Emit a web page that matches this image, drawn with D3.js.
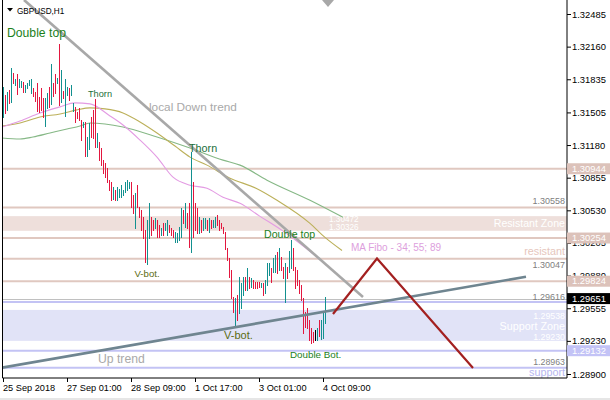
<!DOCTYPE html>
<html><head><meta charset="utf-8">
<script src="https://cdn.jsdelivr.net/npm/d3@7"></script>
<style>
body{margin:0;background:#fff}
svg{display:block}
text{font-family:"Liberation Sans",Arial,sans-serif}
</style>
</head><body><svg id="c" width="610" height="400"></svg>
<script>
// ---------- data ----------
const symbol = "GBPUSD,H1";
const timeLabels = ["25 Sep 2018","27 Sep 01:00","28 Sep 09:00","1 Oct 17:00","3 Oct 01:00","4 Oct 09:00"];
const timeTickBars = [0,32,64,96,128,160];
const priceTicks = [1.32485,1.32160,1.31835,1.31505,1.31180,1.30855,1.30530,1.30205,1.29880,1.29555,1.29230,1.28900];

const highs = [
1.3176,1.3168,1.3171,1.3173,1.3195,1.3190,1.3184,1.3189,1.3184,1.3182,
1.3181,1.3178,1.3180,1.3183,1.3184,1.3175,1.3171,1.3180,1.3166,1.3175,
1.3165,1.3165,1.3170,1.3176,1.3199,1.3180,1.3189,1.3185,1.3219,1.3193,
1.3172,1.3184,1.3176,1.3175,1.3178,1.3160,1.3156,1.3151,1.3155,1.3143,
1.3141,1.3141,1.3126,1.3140,1.3146,1.3153,1.3164,1.3130,1.3121,1.3115,
1.3103,1.3100,1.3095,1.3083,1.3081,1.3076,1.3073,1.3076,1.3074,1.3078,
1.3073,1.3081,1.3083,1.3081,1.3081,1.3068,1.3070,1.3078,1.3056,1.3053,
1.3046,1.3033,1.3043,1.3060,1.3046,1.3043,1.3045,1.3043,1.3038,1.3035,
1.3040,1.3040,1.3043,1.3038,1.3035,1.3033,1.3031,1.3030,1.3036,1.3055,
1.3053,1.3060,1.3050,1.3060,1.3111,1.3081,1.3060,1.3055,1.3046,1.3043,
1.3045,1.3045,1.3043,1.3045,1.3043,1.3043,1.3046,1.3048,1.3043,1.3040,
1.3036,1.3031,1.3015,1.3006,1.2994,1.2967,1.2966,1.2969,1.2987,1.2981,
1.2987,1.2987,1.2996,1.2987,1.2986,1.2984,1.2982,1.2982,1.2982,1.2981,
1.2981,1.2984,1.3001,1.3001,1.2996,1.3006,1.3009,1.3011,1.3015,1.3007,
1.2997,1.3001,1.2997,1.3012,1.3023,1.3015,1.2997,1.2994,1.2984,1.2979,
1.2966,1.2952,1.2956,1.2944,1.2936,1.2932,1.2934,1.2936,1.2944,1.2944,
1.2952,1.2967];

const lows = [
1.3146,1.3150,1.3153,1.3160,1.3161,1.3180,1.3178,1.3169,1.3176,1.3176,
1.3171,1.3171,1.3175,1.3178,1.3170,1.3167,1.3162,1.3152,1.3151,1.3153,
1.3146,1.3137,1.3155,1.3156,1.3159,1.3167,1.3170,1.3180,1.3158,1.3161,
1.3165,1.3147,1.3168,1.3163,1.3168,1.3152,1.3141,1.3145,1.3143,1.3123,
1.3136,1.3107,1.3107,1.3114,1.3126,1.3125,1.3116,1.3116,1.3103,1.3098,
1.3090,1.3086,1.3081,1.3073,1.3063,1.3064,1.3063,1.3063,1.3066,1.3066,
1.3068,1.3071,1.3073,1.3075,1.3056,1.3050,1.3035,1.3056,1.3046,1.3033,
1.3025,1.3002,1.3000,1.3025,1.3028,1.3033,1.3035,1.3026,1.3026,1.3028,
1.3028,1.3033,1.3028,1.3031,1.3028,1.3026,1.3021,1.3021,1.3023,1.3026,
1.3040,1.3036,1.3035,1.3016,1.3011,1.3026,1.3033,1.3030,1.3030,1.3031,
1.3033,1.3035,1.3033,1.3031,1.3035,1.3036,1.3036,1.3038,1.3033,1.3035,
1.3030,1.3014,1.3004,1.2987,1.2966,1.2952,1.2939,1.2944,1.2951,1.2956,
1.2969,1.2974,1.2974,1.2976,1.2977,1.2976,1.2976,1.2976,1.2977,1.2977,
1.2969,1.2971,1.2979,1.2989,1.2982,1.2992,1.2992,1.2991,1.2994,1.2994,
1.2986,1.2962,1.2986,1.2992,1.2996,1.2994,1.2976,1.2979,1.2971,1.2964,
1.2931,1.2937,1.2936,1.2924,1.2921,1.2922,1.2924,1.2924,1.2928,1.2925,
1.2926,1.2941];

// U = bullish bar, D = bearish bar, N = unchanged
const dirs = ("UDUDUDUDUU"+"DUUUUDDDDD"+"DUUDUDDUDU"+"DUUDUUDDDD"+"UDUUDDDUDD"+
              "DDDDDUDUUU"+"UUUUDDUDDD"+"DDUUDDUDDU"+"DUUDDDUUUU"+"DUDDUDDDUD"+
              "UUDUDUUDDD"+"DDDDDDUDUU"+"UDUDUDDDDU"+"DUUUDUUDUD"+"DUDUUDDDDD"+
              "DDDDDDNUDU"+"UU").split("");

const lastPrice = 1.29651;
const resistLines = [1.30944,1.30558,1.30254,1.30047,1.29824];
const supportLines = [1.29616,1.29132,1.28963];
const resistZone = [1.30472,1.30326];
const supportZone = [1.29538,1.29230];
const axisTags = [
  {p:1.30944,kind:"res"},{p:1.30254,kind:"res"},{p:1.29824,kind:"res"},
  {p:1.29651,kind:"bid"},{p:1.29132,kind:"sup"}];

// MA Fibo 34/55/89 (bar index, price)
const ma34 = [[-0.5,1.3136],[8.5,1.3142],[18.5,1.3150],[28.5,1.3156],[36,1.3160],[43.5,1.3159],
  [53.5,1.3147],[60,1.3138],[68.5,1.3123],[77,1.3106],[85,1.3086],[93.5,1.3078],[102,1.3075],
  [110,1.3066],[118.5,1.3060],[128.5,1.3047],[139.5,1.3033],[148.5,1.3020],[158.5,1.3004],[170,1.2984]];
const ma55 = [[-0.5,1.3137],[8.5,1.3140],[18.5,1.3146],[28.5,1.3149],[37,1.3153],[43.5,1.3155],
  [51,1.3154],[60,1.3150],[68.5,1.3141],[77,1.3130],[86,1.3117],[93.5,1.3106],[102,1.3098],
  [113.5,1.3085],[126.5,1.3075],[137,1.3063],[153.5,1.3040],[161,1.3026],[169.5,1.3013]];
const ma89 = [[-0.5,1.3125],[8.5,1.3124],[15,1.3126],[23.5,1.3130],[32,1.3134],[38.5,1.3137],
  [43.5,1.3140],[51,1.3139],[60,1.3136],[77,1.3126],[93.5,1.3115],[110,1.3103],[118.5,1.3098],
  [132,1.3083],[153.5,1.3063],[170,1.3046]];

const downTrend = [[10.5,1.32625],[180,1.29667]];
const upTrend = [[-0.5,1.28963],[261.5,1.29869]];
const forecast = [[165,1.29498],[187,1.30050],[235,1.28960]];

const notes = [
  {t:"Double top", i:2, p:1.3226, size:12.2, c:"#1b7f1b"},
  {t:"Thorn", i:42.5, p:1.3166, size:9.2, c:"#1b6f3a"},
  {t:"local Down trend", i:73, p:1.3152, size:11.8, c:"#a9a9a9"},
  {t:"Thorn", i:93, p:1.3111, size:10.8, c:"#1b6f3a"},
  {t:"V-bot.", i:65.75, p:1.2987, size:9.6, c:"#5b6b10"},
  {t:"Double top", i:130.5, p:1.3025, size:10.6, c:"#1b7f1b"},
  {t:"V-bot.", i:110.5, p:1.29245, size:11, c:"#5b6b10"},
  {t:"Double Bot.", i:143.5, p:1.2906, size:9.8, c:"#1b7f1b"},
  {t:"Up trend", i:47.5, p:1.2901, size:12.2, c:"#a9a9a9"},
  {t:"MA Fibo - 34; 55; 89", i:174, p:1.3012, size:10, c:"#dda0dd"}
];

// ---------- drawing ----------
const svg = d3.select("#c");
const W = 610, H = 400;
const plotL = 2.5, plotR = 567, plotB = 378;

const x = d3.scaleLinear().domain([0,161]).range([3,325]);
const y = d3.scaleLinear().domain([1.28900,1.32485]).range([374,14]);

svg.append("rect").attr("x",0).attr("y",398).attr("width",W).attr("height",2).attr("fill","#e6e6e6");

svg.append("clipPath").attr("id","clip").append("rect")
  .attr("x",plotL).attr("y",0).attr("width",plotR-plotL).attr("height",plotB);
const g = svg.append("g").attr("clip-path","url(#clip)");

const resC = "#e0c8c0", resZoneC = "#eedfdb", supC = "#c3c3f4", supZoneC = "#e1e3f7";

// zones
g.append("rect").attr("x",plotL).attr("width",plotR-plotL)
  .attr("y",y(resistZone[0])).attr("height",y(resistZone[1])-y(resistZone[0])).attr("fill",resZoneC);
g.append("rect").attr("x",plotL).attr("width",plotR-plotL)
  .attr("y",y(supportZone[0])).attr("height",y(supportZone[1])-y(supportZone[0])).attr("fill",supZoneC);

// horizontal levels
g.selectAll("line.res").data(resistLines).join("line").attr("class","res")
  .attr("x1",plotL).attr("x2",plotR).attr("y1",d=>y(d)).attr("y2",d=>y(d))
  .attr("stroke",resC).attr("stroke-width",2);
g.selectAll("line.sup").data(supportLines).join("line").attr("class","sup")
  .attr("x1",plotL).attr("x2",plotR).attr("y1",d=>y(d)).attr("y2",d=>y(d))
  .attr("stroke",supC).attr("stroke-width",2);
g.append("line").attr("x1",plotL).attr("x2",plotR)
  .attr("y1",Math.round(y(lastPrice))+0.5).attr("y2",Math.round(y(lastPrice))+0.5)
  .attr("stroke","#c0c0c0").attr("stroke-width",1);

// level texts
function lvlText(t, px, py, anchor, col, size){
  g.append("text").attr("x",px).attr("y",py).attr("text-anchor",anchor)
   .attr("fill",col).attr("font-size",size).text(t);
}
lvlText("1.30558", 565, y(1.30558)-4, "end", "#808080", 9);
lvlText("Resistant Zone", 565, y(resistZone[0])+11, "end", "#ffffff", 10.6);
lvlText("1.30472", x(163), y(resistZone[0])+6.2, "start", "#ffffff", 8.2);
lvlText("1.30326", x(163), y(resistZone[1])-0.8, "start", "#ffffff", 8.2);
lvlText("resistant", 565, y(1.30254)+17, "end", "#e6c6bc", 10.8);
lvlText("1.30047", 565, y(1.30047)+9, "end", "#808080", 9);
lvlText("1.29616", 565, y(1.29616)-2.5, "end", "#808080", 9);
lvlText("1.29538", 565, y(supportZone[0])+9.5, "end", "#ffffff", 8.8);
lvlText("Support Zone", 565, y(supportZone[0])+20, "end", "#ffffff", 10.8);
lvlText("1.29230", 565, y(supportZone[1])-1, "end", "#ffffff", 8.8);
lvlText("1.28963", 565, y(1.28963)-3, "end", "#808080", 8.8);
lvlText("support", 565, y(1.28963)+8.5, "end", "#b6b6f0", 10.8);

// moving averages
const maLine = d3.line().x(d=>x(d[0])).y(d=>y(d[1])).curve(d3.curveMonotoneX);
g.append("path").datum(ma89).attr("d",maLine).attr("fill","none").attr("stroke","#86b886").attr("stroke-width",1.1);
g.append("path").datum(ma55).attr("d",maLine).attr("fill","none").attr("stroke","#bcb05a").attr("stroke-width",1.1);
g.append("path").datum(ma34).attr("d",maLine).attr("fill","none").attr("stroke","#e39be3").attr("stroke-width",1.1);

// bars (1px wide high-low bars)
const barCol = {U:"#12908f", D:"#e3173f", N:"#000000"};
g.selectAll("rect.bar").data(highs).join("rect").attr("class","bar")
  .attr("x",(d,i)=>Math.round(x(i))).attr("width",1)
  .attr("y",d=>Math.round(y(d)))
  .attr("height",(d,i)=>Math.max(1,Math.round(y(lows[i]))-Math.round(y(d))+1))
  .attr("fill",(d,i)=>barCol[dirs[i]])
  .attr("shape-rendering","crispEdges");

// trend lines
const tl = d3.line().x(d=>x(d[0])).y(d=>y(d[1]));
g.append("path").datum(downTrend).attr("d",tl).attr("fill","none").attr("stroke","#a8a8a8").attr("stroke-width",2.6);
g.append("path").datum(upTrend).attr("d",tl).attr("fill","none").attr("stroke","#6f8590").attr("stroke-width",2.6);
g.append("path").datum(forecast).attr("d",tl).attr("fill","none").attr("stroke","#a32020").attr("stroke-width",2.2);

// annotations
g.selectAll("text.note").data(notes).join("text").attr("class","note")
  .attr("x",d=>x(d.i)).attr("y",d=>y(d.p)).attr("font-size",d=>d.size)
  .attr("fill",d=>d.c).text(d=>d.t);

// title
svg.append("path").attr("d","M7,8L13,8L10,11.5Z").attr("fill","#000");
svg.append("text").attr("x",17).attr("y",13.5).attr("font-size",8.2).attr("fill","#000").text(symbol);
// chart shift marker
svg.append("path").attr("d",`M${x(162.5)-6},0L${x(162.5)+6},0L${x(162.5)},7Z`).attr("fill","#a8a8a8");

// frame
svg.append("path").attr("d",`M${plotL},0V${plotB}H${plotR}V0`).attr("fill","none").attr("stroke","#000").attr("stroke-width",1);

// price axis
const ya = svg.append("g").attr("transform",`translate(${plotR},0)`)
  .call(d3.axisRight(y).tickValues(priceTicks).tickFormat(d3.format(".5f")).tickSize(4).tickPadding(1));
ya.select(".domain").remove();
ya.selectAll("text").attr("font-size",9.4).attr("font-family","Liberation Sans, Arial, sans-serif").attr("fill","#000");
ya.selectAll("line").attr("stroke","#000");

// time axis
const xa = svg.append("g").attr("transform",`translate(0,${plotB})`)
  .call(d3.axisBottom(x).tickValues(timeTickBars).tickFormat((d,i)=>timeLabels[i]).tickSize(4).tickPadding(2));
xa.select(".domain").remove();
xa.selectAll("text").attr("font-size",9.2).attr("text-anchor","start").attr("dx","-0.5")
  .attr("font-family","Liberation Sans, Arial, sans-serif").attr("fill","#000");
xa.selectAll("line").attr("stroke","#000");

// tagged prices on axis
const tagFill = {res:"#dcc2ba", bid:"#000000", sup:"#c3c3f6"};
const tags = svg.selectAll("g.tag").data(axisTags).join("g").attr("class","tag")
  .attr("transform",d=>`translate(${plotR},${y(d.p)})`);
tags.append("rect").attr("x",0).attr("y",-5.5).attr("width",W-plotR).attr("height",11).attr("fill",d=>tagFill[d.kind]);
tags.append("text").attr("x",5).attr("dy","0.34em").attr("font-size",9.4).attr("fill","#fff")
  .text(d=>d3.format(".5f")(d.p));
</script>
</body></html>
